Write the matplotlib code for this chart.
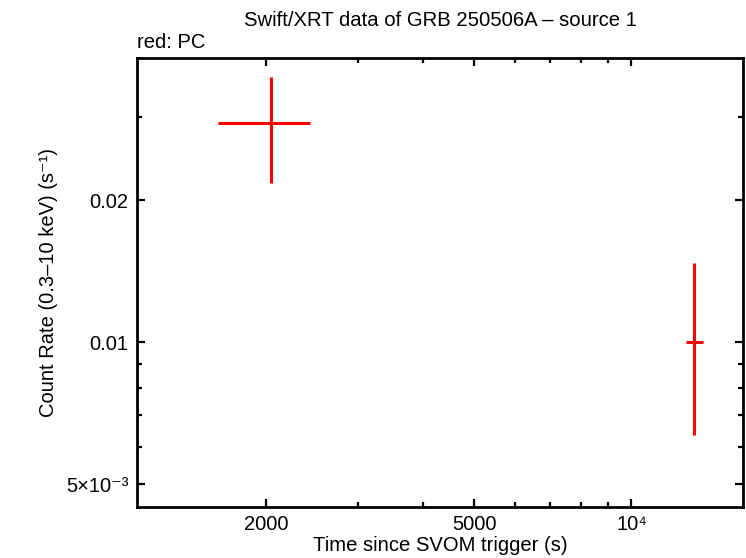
import matplotlib
matplotlib.use("Agg")
import matplotlib.pyplot as plt
import numpy as np

plt.rcParams['font.family'] = ['Liberation Sans', 'DejaVu Sans']
plt.rcParams['mathtext.fontset'] = 'custom'
plt.rcParams['mathtext.rm'] = 'Liberation Sans'
plt.rcParams['mathtext.it'] = 'Liberation Sans'
plt.rcParams['mathtext.bf'] = 'Liberation Sans'

# Data (PC mode)
time = [2044, 13166]
time_err_minus = [426, 433]
time_err_plus = [381, 558]
rate = [0.02906, 0.0100]
rate_err_minus = [0.0073, 0.00363]
rate_err_plus = [0.0074, 0.00472]

x_major = [2000, 5000, 10000]
x_major_labels = ['2000', '5000', '10\u2074']
x_minor = [3000, 4000, 6000, 7000, 8000, 9000]
y_major = [0.005, 0.01, 0.02]
y_major_labels = ['5\u00d710\u207b\u00b3', '0.01', '0.02']
y_minor = [0.006, 0.007, 0.008, 0.009, 0.03]

fig = plt.figure(figsize=(7.46, 5.58), dpi=100)
ax = fig.add_axes([137/746, 1 - 507/558, (743-137)/746, (507-58)/558])

ax.errorbar(time, rate,
            xerr=[time_err_minus, time_err_plus],
            yerr=[rate_err_minus, rate_err_plus],
            fmt='none', ecolor='#ff0000', elinewidth=2.2, capsize=0)

ax.set_xscale('log')
ax.set_yscale('log')
ax.set_xlim(1133, 16344)
ax.set_ylim(0.004477, 0.03997)

ax.set_xticks(x_major)
ax.set_xticklabels(x_major_labels)
ax.set_xticks(x_minor, minor=True)
ax.set_xticklabels([], minor=True)
ax.set_yticks(y_major)
ax.set_yticklabels(y_major_labels)
ax.set_yticks(y_minor, minor=True)
ax.set_yticklabels([], minor=True)

ax.tick_params(which='both', direction='in', top=True, right=True,
               labelsize=14.5, width=1.6, color='black')
ax.tick_params(which='major', length=6, pad=6)
ax.tick_params(which='minor', length=3.5)
for s in ax.spines.values():
    s.set_linewidth(2.0)

ax.set_xlabel('Time since SVOM trigger (s)', fontsize=14.6, labelpad=1)
ax.set_ylabel('Count Rate (0.3\u201310 keV) (s\u207b\u00b9)', fontsize=14.5, labelpad=6)

fig.text(440/746, 1 - 20/558, 'Swift/XRT data of GRB 250506A \u2013 source 1',
         ha='center', va='center', fontsize=14.6)
fig.text(137/746, 1 - 42/558, 'red: PC', ha='left', va='center', fontsize=14.5)

fig.savefig('out.png', dpi=100)
